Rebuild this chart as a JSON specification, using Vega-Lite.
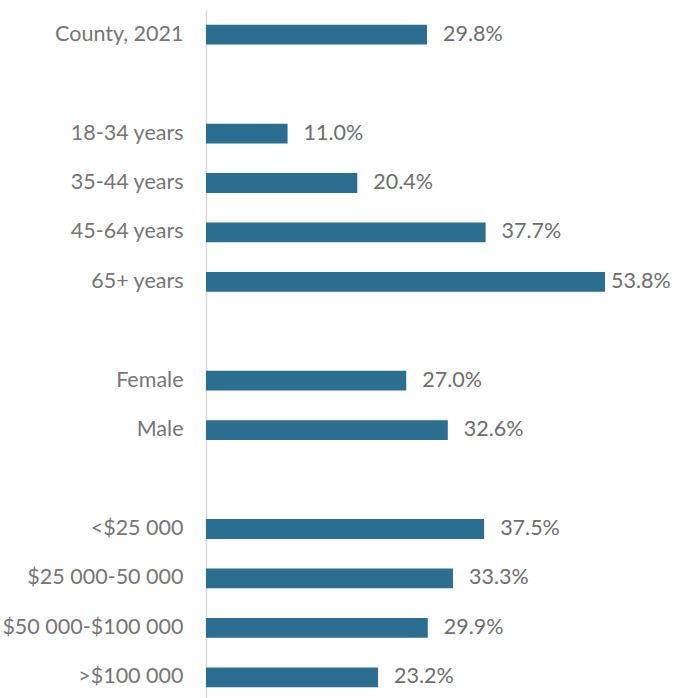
{
  "$schema": "https://vega.github.io/schema/vega-lite/v6.json",
  "autosize": "none",
  "width": 445,
  "height": 692,
  "padding": {"left": 206, "top": 10, "right": 26, "bottom": 0},
  "background": "white",
  "config": {"view": {"stroke": null}, "font": "Lato"},
  "data": {
    "values": [
      {"cat": "County, 2021", "value": 0.298},
      {"cat": " ", "value": null},
      {"cat": "18-34 years", "value": 0.110},
      {"cat": "35-44 years", "value": 0.204},
      {"cat": "45-64 years", "value": 0.377},
      {"cat": "65+ years", "value": 0.538},
      {"cat": "  ", "value": null},
      {"cat": "Female", "value": 0.270},
      {"cat": "Male", "value": 0.326},
      {"cat": "   ", "value": null},
      {"cat": "<$25 000", "value": 0.375},
      {"cat": "$25 000-50 000", "value": 0.333},
      {"cat": "$50 000-$100 000", "value": 0.299},
      {"cat": ">$100 000", "value": 0.232}
    ]
  },
  "encoding": {
    "y": {
      "field": "cat",
      "type": "nominal",
      "sort": null,
      "scale": {
        "domain": ["County, 2021", " ", "18-34 years", "35-44 years", "45-64 years", "65+ years", "  ", "Female", "Male", "   ", "<$25 000", "$25 000-50 000", "$50 000-$100 000", ">$100 000"],
        "paddingInner": 0.6,
        "paddingOuter": 0.3
      },
      "axis": {
        "title": null,
        "ticks": false,
        "labelFontSize": 21.5,
        "labelColor": "#767676",
        "labelPadding": 23,
        "labelLimit": 400,
        "labelFont": "Lato",
        "domainColor": "#d9d9d9",
        "domainWidth": 1.5,
        "grid": false
      }
    },
    "x": {
      "field": "value",
      "type": "quantitative",
      "scale": {"domain": [0, 0.6], "nice": false, "zero": true},
      "axis": null
    }
  },
  "layer": [
    {
      "mark": {"type": "bar", "color": "#2C6E8F"}
    },
    {
      "transform": [{"filter": "datum.value != null && datum.value <= 0.5"}],
      "mark": {"type": "text", "align": "left", "baseline": "middle", "dx": 16, "fontSize": 21.5, "color": "#6e6e6e", "font": "Lato"},
      "encoding": {
        "text": {"field": "value", "type": "quantitative", "format": ".1%"}
      }
    },
    {
      "transform": [{"filter": "datum.value != null && datum.value > 0.5"}],
      "mark": {"type": "text", "align": "left", "baseline": "middle", "dx": 6, "fontSize": 21.5, "color": "#6e6e6e", "font": "Lato"},
      "encoding": {
        "text": {"field": "value", "type": "quantitative", "format": ".1%"}
      }
    }
  ]
}
